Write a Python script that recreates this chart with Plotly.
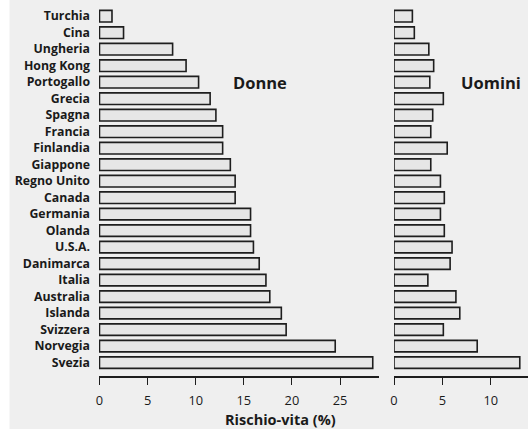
import plotly.graph_objects as go

countries = ["Turchia", "Cina", "Ungheria", "Hong Kong", "Portogallo", "Grecia", "Spagna",
             "Francia", "Finlandia", "Giappone", "Regno Unito", "Canada", "Germania", "Olanda",
             "U.S.A.", "Danimarca", "Italia", "Australia", "Islanda", "Svizzera", "Norvegia", "Svezia"]
donne = [1.3, 2.5, 7.6, 9.0, 10.3, 11.5, 12.1, 12.8, 12.8, 13.6, 14.1, 14.1, 15.7, 15.7,
         16.0, 16.6, 17.3, 17.7, 18.9, 19.4, 24.5, 28.4]
uomini = [1.9, 2.1, 3.6, 4.1, 3.7, 5.1, 4.0, 3.8, 5.5, 3.8, 4.8, 5.2, 4.8, 5.2,
          6.0, 5.8, 3.5, 6.4, 6.8, 5.1, 8.6, 13.0]
x_ticks_donne = [0, 5, 10, 15, 20, 25]
x_ticks_uomini = [0, 5, 10]

W, H = 528, 429
ML, MB = 99, 53
PW, PH = W - ML, H - MB

def px_x(p):
    return (p - ML) / PW

def px_y(p):
    return (PH - p) / PH

bar_style = dict(orientation="h", width=0.7,
                 marker=dict(color="#e6e6e6", line=dict(color="#1e1e1e", width=1.6)),
                 hoverinfo="x+y")

fig = go.Figure()
fig.add_trace(go.Bar(x=donne, y=countries, xaxis="x", yaxis="y", name="Donne", **bar_style))
fig.add_trace(go.Bar(x=uomini, y=countries, xaxis="x2", yaxis="y", name="Uomini", **bar_style))

axis_common = dict(showgrid=False, zeroline=False, showline=True, linecolor="#1e1e1e", linewidth=1.5,
                   ticks="outside", ticklen=7, tickwidth=1.4, tickcolor="#1e1e1e",
                   ticklabelstandoff=5, automargin=False,
                   tickfont=dict(family="Open Sans", size=12.8, color="#1a1a1a"), anchor="y")

ann_common = dict(xref="paper", yref="paper", showarrow=False, xanchor="center", yanchor="middle")

fig.update_layout(
    width=W, height=H,
    margin=dict(l=ML, r=0, t=0, b=MB),
    paper_bgcolor="#efefef", plot_bgcolor="#efefef",
    showlegend=False,
    xaxis=dict(domain=[0, px_x(379)], range=[-0.05, 29.05], tickvals=x_ticks_donne, **axis_common),
    xaxis2=dict(domain=[px_x(394), 1], range=[0, 13.85], tickvals=x_ticks_uomini, **axis_common),
    yaxis=dict(type="category", range=[21.81, -0.98], showgrid=False, zeroline=False, showline=False,
               ticks="", ticklabelstandoff=8, automargin=False,
               tickfont=dict(family="Open Sans", size=12.3, color="#1a1a1a", weight="bold")),
    shapes=[dict(type="rect", xref="paper", yref="paper", x0=px_x(-5), x1=px_x(9.5),
                 y0=px_y(440), y1=px_y(-10), fillcolor="#ffffff", line=dict(width=0), layer="below")],
    annotations=[
        dict(text="<b>Donne</b>", x=px_x(259.5), y=px_y(82),
             font=dict(family="Open Sans", size=16.5, color="#1a1a1a"), **ann_common),
        dict(text="<b>Uomini</b>", x=px_x(491), y=px_y(82),
             font=dict(family="Open Sans", size=16.5, color="#1a1a1a"), **ann_common),
        dict(text="<b>Rischio-vita (%)</b>", x=px_x(280), y=px_y(419),
             font=dict(family="Open Sans", size=14.5, color="#1a1a1a"), **ann_common),
    ],
)

fig.write_html("out.html", config={"displayModeBar": False},
               post_script="document.body.style.margin='0px';"
                           "document.body.style.background='#efefef';"
                           "document.documentElement.style.background='#efefef';")
